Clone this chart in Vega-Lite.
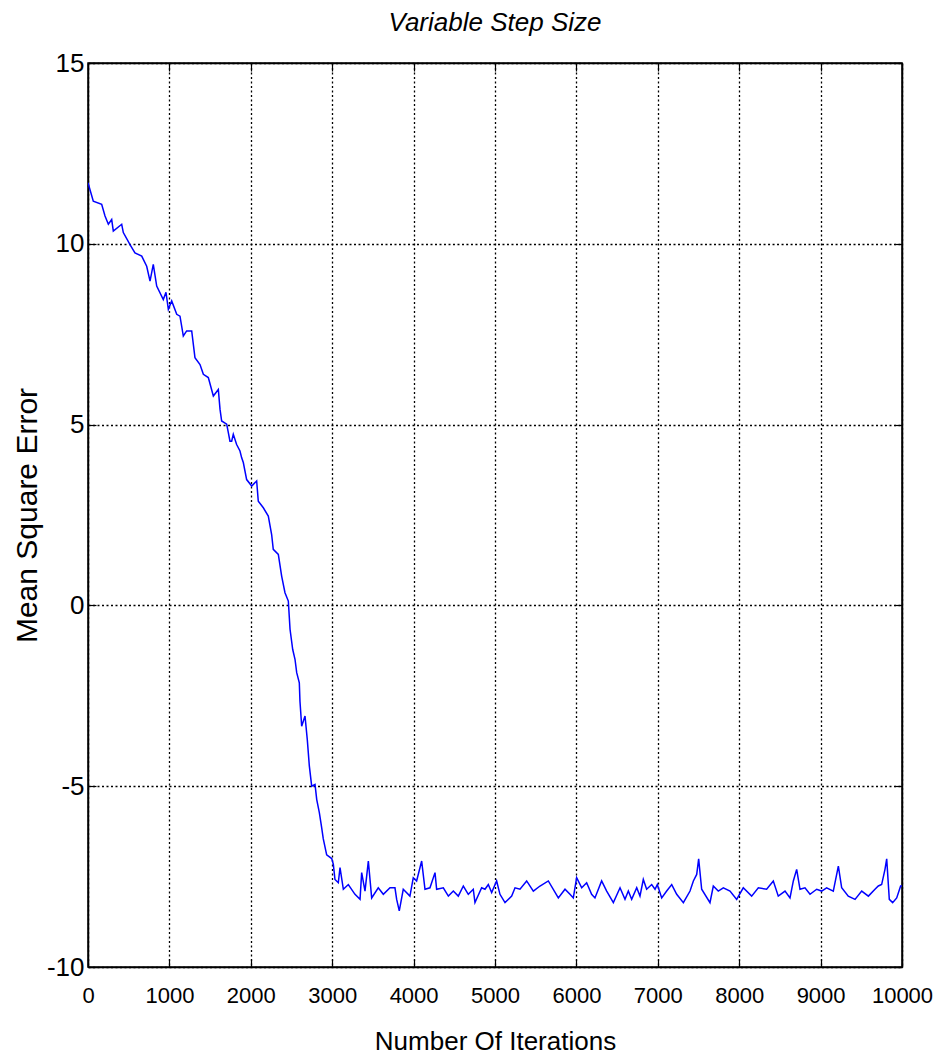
{
  "$schema": "https://vega.github.io/schema/vega-lite/v6.json",
  "width": 814,
  "height": 904,
  "autosize": "none",
  "padding": {"left": 88, "top": 63, "right": 41, "bottom": 90},
  "background": "white",
  "config": {
    "font": "Liberation Sans",
    "view": {"stroke": "black", "strokeWidth": 1.5},
    "axis": {"domainColor": "black", "domainWidth": 1.5, "tickColor": "black", "tickWidth": 1.2, "labelColor": "black", "titleColor": "black", "titleFontWeight": "normal"}
  },
  "title": {"text": "Variable Step Size", "font": "Liberation Sans", "fontStyle": "italic", "fontWeight": "normal", "fontSize": 26, "color": "black", "anchor": "middle", "offset": 14},
  "data": {"values": [
    {"iter": 0, "mse": 11.69}, {"iter": 65, "mse": 11.18}, {"iter": 168, "mse": 11.09}, {"iter": 209, "mse": 10.77},
    {"iter": 250, "mse": 10.54}, {"iter": 291, "mse": 10.67}, {"iter": 311, "mse": 10.35}, {"iter": 414, "mse": 10.54},
    {"iter": 434, "mse": 10.31}, {"iter": 516, "mse": 9.98}, {"iter": 577, "mse": 9.75}, {"iter": 660, "mse": 9.66},
    {"iter": 721, "mse": 9.38}, {"iter": 762, "mse": 8.97}, {"iter": 802, "mse": 9.43}, {"iter": 844, "mse": 8.83},
    {"iter": 925, "mse": 8.46}, {"iter": 958, "mse": 8.66}, {"iter": 987, "mse": 8.19}, {"iter": 1028, "mse": 8.42},
    {"iter": 1090, "mse": 8.05}, {"iter": 1130, "mse": 8.0}, {"iter": 1171, "mse": 7.45}, {"iter": 1212, "mse": 7.59},
    {"iter": 1274, "mse": 7.59}, {"iter": 1314, "mse": 6.85}, {"iter": 1376, "mse": 6.66}, {"iter": 1417, "mse": 6.39},
    {"iter": 1478, "mse": 6.30}, {"iter": 1540, "mse": 5.79}, {"iter": 1601, "mse": 5.97}, {"iter": 1622, "mse": 5.42},
    {"iter": 1642, "mse": 5.10}, {"iter": 1704, "mse": 5.01}, {"iter": 1724, "mse": 4.78}, {"iter": 1744, "mse": 4.54},
    {"iter": 1765, "mse": 4.54}, {"iter": 1785, "mse": 4.73}, {"iter": 1826, "mse": 4.45}, {"iter": 1867, "mse": 4.27},
    {"iter": 1888, "mse": 4.08}, {"iter": 1908, "mse": 3.95}, {"iter": 1949, "mse": 3.48}, {"iter": 2011, "mse": 3.30},
    {"iter": 2072, "mse": 3.44}, {"iter": 2092, "mse": 2.88}, {"iter": 2154, "mse": 2.70}, {"iter": 2215, "mse": 2.47},
    {"iter": 2256, "mse": 1.96}, {"iter": 2276, "mse": 1.55}, {"iter": 2338, "mse": 1.41}, {"iter": 2379, "mse": 0.81},
    {"iter": 2420, "mse": 0.35}, {"iter": 2461, "mse": 0.12}, {"iter": 2482, "mse": -0.66}, {"iter": 2515, "mse": -1.22},
    {"iter": 2543, "mse": -1.49}, {"iter": 2564, "mse": -1.86}, {"iter": 2596, "mse": -2.14}, {"iter": 2604, "mse": -2.65},
    {"iter": 2625, "mse": -3.34}, {"iter": 2666, "mse": -3.06}, {"iter": 2694, "mse": -3.71}, {"iter": 2719, "mse": -4.44},
    {"iter": 2748, "mse": -5.0}, {"iter": 2789, "mse": -4.95}, {"iter": 2810, "mse": -5.37}, {"iter": 2842, "mse": -5.73},
    {"iter": 2871, "mse": -6.15}, {"iter": 2890, "mse": -6.45}, {"iter": 2932, "mse": -6.9}, {"iter": 2994, "mse": -7.0},
    {"iter": 3014, "mse": -7.16}, {"iter": 3034, "mse": -7.58}, {"iter": 3075, "mse": -7.67}, {"iter": 3096, "mse": -7.25},
    {"iter": 3137, "mse": -7.85}, {"iter": 3198, "mse": -7.72}, {"iter": 3280, "mse": -7.99}, {"iter": 3342, "mse": -8.13},
    {"iter": 3362, "mse": -7.39}, {"iter": 3403, "mse": -7.90}, {"iter": 3444, "mse": -7.07}, {"iter": 3485, "mse": -8.09},
    {"iter": 3566, "mse": -7.81}, {"iter": 3628, "mse": -7.99}, {"iter": 3710, "mse": -7.81}, {"iter": 3771, "mse": -7.81},
    {"iter": 3792, "mse": -8.13}, {"iter": 3824, "mse": -8.45}, {"iter": 3873, "mse": -7.85}, {"iter": 3955, "mse": -8.04},
    {"iter": 3996, "mse": -7.53}, {"iter": 4037, "mse": -7.62}, {"iter": 4099, "mse": -7.07}, {"iter": 4140, "mse": -7.85},
    {"iter": 4201, "mse": -7.81}, {"iter": 4263, "mse": -7.39}, {"iter": 4283, "mse": -7.85}, {"iter": 4365, "mse": -7.81},
    {"iter": 4427, "mse": -8.04}, {"iter": 4488, "mse": -7.90}, {"iter": 4549, "mse": -8.04}, {"iter": 4611, "mse": -7.76},
    {"iter": 4672, "mse": -7.99}, {"iter": 4733, "mse": -7.85}, {"iter": 4754, "mse": -8.22}, {"iter": 4836, "mse": -7.81},
    {"iter": 4877, "mse": -7.85}, {"iter": 4918, "mse": -7.72}, {"iter": 4959, "mse": -7.94}, {"iter": 5020, "mse": -7.62},
    {"iter": 5061, "mse": -7.99}, {"iter": 5123, "mse": -8.22}, {"iter": 5205, "mse": -8.04}, {"iter": 5246, "mse": -7.81},
    {"iter": 5307, "mse": -7.85}, {"iter": 5389, "mse": -7.62}, {"iter": 5471, "mse": -7.90}, {"iter": 5553, "mse": -7.76},
    {"iter": 5655, "mse": -7.62}, {"iter": 5778, "mse": -8.09}, {"iter": 5860, "mse": -7.85}, {"iter": 5921, "mse": -7.99},
    {"iter": 5962, "mse": -8.09}, {"iter": 6003, "mse": -7.53}, {"iter": 6065, "mse": -7.81}, {"iter": 6126, "mse": -7.67},
    {"iter": 6187, "mse": -7.99}, {"iter": 6228, "mse": -8.09}, {"iter": 6310, "mse": -7.62}, {"iter": 6372, "mse": -7.90},
    {"iter": 6454, "mse": -8.22}, {"iter": 6536, "mse": -7.81}, {"iter": 6597, "mse": -8.13}, {"iter": 6638, "mse": -7.90},
    {"iter": 6679, "mse": -8.13}, {"iter": 6741, "mse": -7.81}, {"iter": 6781, "mse": -8.04}, {"iter": 6822, "mse": -7.58},
    {"iter": 6863, "mse": -7.85}, {"iter": 6925, "mse": -7.72}, {"iter": 6966, "mse": -7.85}, {"iter": 6994, "mse": -7.72},
    {"iter": 7048, "mse": -8.09}, {"iter": 7109, "mse": -7.90}, {"iter": 7171, "mse": -7.72}, {"iter": 7232, "mse": -7.99},
    {"iter": 7314, "mse": -8.22}, {"iter": 7396, "mse": -7.90}, {"iter": 7437, "mse": -7.62}, {"iter": 7478, "mse": -7.44},
    {"iter": 7502, "mse": -7.01}, {"iter": 7539, "mse": -7.85}, {"iter": 7641, "mse": -8.22}, {"iter": 7682, "mse": -7.76},
    {"iter": 7743, "mse": -7.90}, {"iter": 7805, "mse": -7.81}, {"iter": 7887, "mse": -7.90}, {"iter": 7969, "mse": -8.13},
    {"iter": 8050, "mse": -7.81}, {"iter": 8153, "mse": -8.04}, {"iter": 8235, "mse": -7.81}, {"iter": 8337, "mse": -7.85},
    {"iter": 8419, "mse": -7.62}, {"iter": 8480, "mse": -8.04}, {"iter": 8563, "mse": -7.90}, {"iter": 8624, "mse": -8.09},
    {"iter": 8665, "mse": -7.62}, {"iter": 8706, "mse": -7.30}, {"iter": 8747, "mse": -7.85}, {"iter": 8808, "mse": -7.81},
    {"iter": 8870, "mse": -7.99}, {"iter": 8952, "mse": -7.85}, {"iter": 9013, "mse": -7.90}, {"iter": 9074, "mse": -7.81},
    {"iter": 9156, "mse": -7.90}, {"iter": 9218, "mse": -7.21}, {"iter": 9259, "mse": -7.81}, {"iter": 9340, "mse": -8.04},
    {"iter": 9423, "mse": -8.13}, {"iter": 9505, "mse": -7.90}, {"iter": 9587, "mse": -8.04}, {"iter": 9668, "mse": -7.85},
    {"iter": 9709, "mse": -7.76}, {"iter": 9750, "mse": -7.72}, {"iter": 9791, "mse": -7.30}, {"iter": 9812, "mse": -7.01},
    {"iter": 9844, "mse": -8.13}, {"iter": 9885, "mse": -8.22}, {"iter": 9935, "mse": -8.09}, {"iter": 9983, "mse": -7.76},
    {"iter": 10000, "mse": -7.76}
  ]},
  "layer": [
    {
      "mark": {"type": "line", "color": "#0000ff", "strokeWidth": 1.5, "clip": true},
      "encoding": {
        "x": {"field": "iter", "type": "quantitative",
          "scale": {"domain": [0, 10000], "nice": false, "zero": false},
          "axis": {"orient": "bottom", "values": [0,1000,2000,3000,4000,5000,6000,7000,8000,9000,10000],
            "labelExpr": "datum.value < 0 ? '-' + abs(datum.value) : '' + datum.value",
            "title": "Number Of Iterations", "titleFont": "Liberation Sans", "titleFontSize": 26, "titlePadding": 22,
            "labelFont": "Liberation Sans", "labelFontSize": 22, "labelPadding": 26, "labelFlush": false, "labelOverlap": false,
            "tickSize": -8, "grid": true, "gridColor": "black", "gridDash": [2, 2.5], "gridWidth": 1.3, "gridOpacity": 1}},
        "y": {"field": "mse", "type": "quantitative",
          "scale": {"domain": [-10, 15], "nice": false, "zero": false},
          "axis": {"orient": "left", "values": [-10,-5,0,5,10,15],
            "labelExpr": "datum.value < 0 ? '-' + abs(datum.value) : '' + datum.value",
            "title": "Mean Square Error", "titleFont": "Liberation Sans", "titleFontSize": 30, "titlePadding": 4,
            "labelFont": "Liberation Sans", "labelFontSize": 26, "labelPadding": 12, "labelFlush": false, "labelOverlap": false,
            "tickSize": -8, "grid": true, "gridColor": "black", "gridDash": [2, 2.5], "gridWidth": 1.3, "gridOpacity": 1}}
      }
    },
    {
      "mark": {"type": "line", "opacity": 0},
      "encoding": {
        "x": {"field": "iter", "type": "quantitative",
          "axis": {"orient": "top", "values": [0,1000,2000,3000,4000,5000,6000,7000,8000,9000,10000], "labels": false, "title": null, "tickSize": -8, "grid": false}},
        "y": {"field": "mse", "type": "quantitative",
          "axis": {"orient": "right", "values": [-10,-5,0,5,10,15], "labels": false, "title": null, "tickSize": -8, "grid": false}}
      }
    }
  ]
}
